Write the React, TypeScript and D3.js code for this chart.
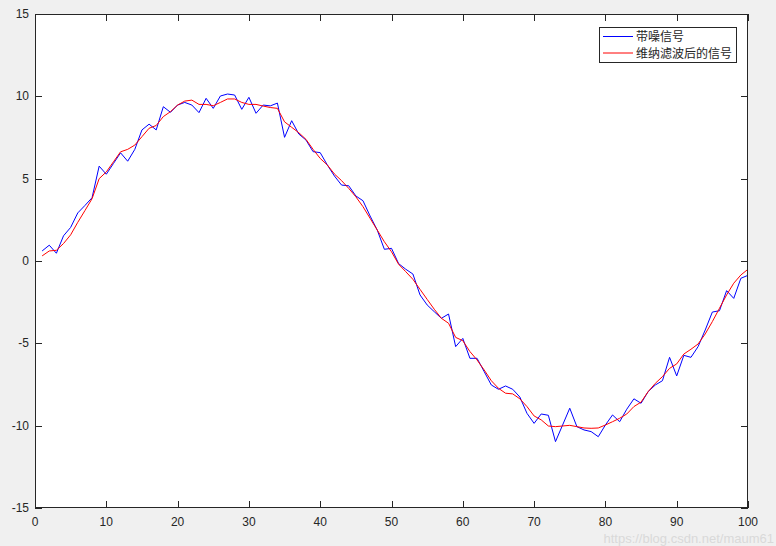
import * as d3 from "d3";

const WIDTH = 776;
const HEIGHT = 546;
const MARGIN = { top: 14, right: 28, bottom: 38, left: 35 };
const INNER_W = WIDTH - MARGIN.left - MARGIN.right;
const INNER_H = HEIGHT - MARGIN.top - MARGIN.bottom;

const xTicks = [0, 10, 20, 30, 40, 50, 60, 70, 80, 90, 100];
const yTicks = [-15, -10, -5, 0, 5, 10, 15];

const seriesNames = ["带噪信号", "维纳滤波后的信号"];

// noisy signal, n = 1..100
const noisy = [
  0.61, 0.96, 0.47, 1.53, 2.04, 2.92, 3.37, 3.84, 5.76, 5.27,
  5.92, 6.57, 6.06, 6.78, 7.96, 8.31, 7.96, 9.37, 9.03, 9.47,
  9.63, 9.47, 9.01, 9.88, 9.27, 10.02, 10.14, 10.08, 9.21, 9.94,
  8.97, 9.47, 9.42, 9.59, 7.51, 8.52, 7.71, 7.35, 6.64, 6.58,
  5.83, 5.16, 4.61, 4.57, 3.95, 3.66, 2.73, 1.88, 0.71, 0.77,
  -0.16, -0.5, -0.79, -2.06, -2.67, -3.08, -3.48, -3.22, -5.2, -4.7,
  -5.91, -5.91, -6.72, -7.53, -7.79, -7.59, -7.79, -8.26, -9.25, -9.86,
  -9.29, -9.37, -10.97, -9.96, -8.94, -10.06, -10.26, -10.36, -10.67, -9.96,
  -9.35, -9.76, -9.0, -8.37, -8.64, -7.93, -7.53, -7.27, -5.85, -6.98,
  -5.73, -5.85, -5.2, -4.19, -3.1, -3.02, -1.8, -2.27, -1.05, -0.87,
];

// wiener filtered output
const filtered = [
  0.31, 0.61, 0.65, 1.06, 1.59, 2.35, 3.06, 3.78, 5.0, 5.41,
  6.02, 6.63, 6.78, 7.04, 7.55, 8.06, 8.23, 8.77, 9.07, 9.47,
  9.71, 9.77, 9.51, 9.51, 9.43, 9.63, 9.84, 9.84, 9.63, 9.51,
  9.51, 9.41, 9.32, 9.27, 8.45, 8.12, 7.79, 7.39, 6.78, 6.23,
  5.83, 5.28, 4.88, 4.41, 3.9, 3.3, 2.59, 1.88, 1.17, 0.56,
  -0.2, -0.65, -1.11, -1.72, -2.33, -2.93, -3.48, -3.78, -4.64, -4.84,
  -5.5, -6.01, -6.62, -7.27, -7.73, -8.03, -8.07, -8.37, -8.84, -9.41,
  -9.65, -10.02, -10.06, -10.02, -9.98, -10.06, -10.14, -10.16, -10.14, -9.96,
  -9.76, -9.55, -9.29, -8.84, -8.57, -7.93, -7.43, -7.02, -6.52, -6.25,
  -5.65, -5.36, -5.04, -4.43, -3.68, -2.87, -2.06, -1.35, -0.85, -0.5,
];

const AXIS_COLOR = "#262626";
const TICK_LEN = 7;

export default function App() {
  const x = d3.scaleLinear().domain([0, 100]).range([0, INNER_W]);
  const y = d3.scaleLinear().domain([-15, 15]).range([INNER_H, 0]);

  const line = d3
    .line<number>()
    .x((_, i) => x(i + 1))
    .y((v) => y(v));

  const colors = ["#0000ff", "#ff0000"];
  const series = [noisy, filtered];

  return (
    <svg
      width={WIDTH}
      height={HEIGHT}
      style={{ position: "fixed", left: 0, top: 0, background: "#f0f0f0" }}
      fontFamily="Arial, 'Liberation Sans', Helvetica, sans-serif"
    >
      <rect width={WIDTH} height={HEIGHT} fill="#f0f0f0" />
      <g transform={`translate(${MARGIN.left},${MARGIN.top})`}>
        <rect width={INNER_W} height={INNER_H} fill="#ffffff" />

        {series.map((s, i) => (
          <path
            key={i}
            d={line(s) ?? ""}
            fill="none"
            stroke={colors[i]}
            strokeWidth={1}
            strokeLinejoin="round"
          />
        ))}

        {/* ticks on all four sides, pointing inward */}
        {xTicks.map((t) => (
          <g key={`x${t}`} stroke={AXIS_COLOR} strokeWidth={1}>
            <line x1={Math.round(x(t)) + 0.5} x2={Math.round(x(t)) + 0.5} y1={INNER_H} y2={INNER_H - TICK_LEN} />
            <line x1={Math.round(x(t)) + 0.5} x2={Math.round(x(t)) + 0.5} y1={0} y2={TICK_LEN} />
          </g>
        ))}
        {yTicks.map((t) => (
          <g key={`y${t}`} stroke={AXIS_COLOR} strokeWidth={1}>
            <line x1={0} x2={TICK_LEN} y1={Math.round(y(t)) + 0.5} y2={Math.round(y(t)) + 0.5} />
            <line x1={INNER_W} x2={INNER_W - TICK_LEN} y1={Math.round(y(t)) + 0.5} y2={Math.round(y(t)) + 0.5} />
          </g>
        ))}

        <rect
          x={0.5}
          y={0.5}
          width={INNER_W - 1}
          height={INNER_H - 1}
          fill="none"
          stroke={AXIS_COLOR}
          strokeWidth={1}
        />

        {xTicks.map((t) => (
          <text
            key={`xl${t}`}
            x={x(t)}
            y={INNER_H + 18}
            textAnchor="middle"
            fontSize={12}
            fill={AXIS_COLOR}
          >
            {t}
          </text>
        ))}
        {yTicks.map((t) => (
          <text
            key={`yl${t}`}
            x={-6}
            y={y(t) + 4}
            textAnchor="end"
            fontSize={12}
            fill={AXIS_COLOR}
          >
            {t}
          </text>
        ))}

        {/* legend */}
        <g transform={`translate(${599 - MARGIN.left},${27 - MARGIN.top})`}>
          <rect x={0.5} y={0.5} width={137} height={35} fill="#ffffff" stroke={AXIS_COLOR} strokeWidth={1} />
          {seriesNames.map((name, i) => (
            <g key={name} transform={`translate(0,${9.5 + i * 16.5})`}>
              <line x1={4} x2={34} y1={0} y2={0} stroke={colors[i]} strokeWidth={1} />
              <text
                x={37}
                y={4.5}
                fontSize={12}
                fill={AXIS_COLOR}
                fontFamily="'Noto Sans CJK SC', sans-serif"
              >
                {name}
              </text>
            </g>
          ))}
        </g>
      </g>

      <text
        x={WIDTH - 2}
        y={HEIGHT - 3}
        textAnchor="end"
        fontSize={13}
        fill="#d9d9d9"
      >
        https://blog.csdn.net/maum61
      </text>
    </svg>
  );
}
